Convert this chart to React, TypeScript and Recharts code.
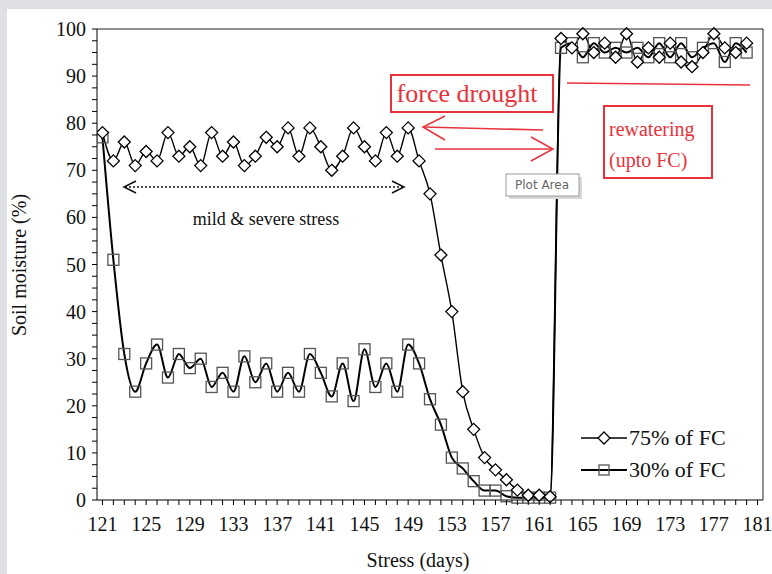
import { LineChart, Line, XAxis, YAxis } from "recharts"

// days of the stress experiment
const days = [
  121, 122, 123, 124, 125, 126, 127, 128, 129, 130,
  131, 132, 133, 134, 135, 136, 137, 138, 139, 140,
  141, 142, 143, 144, 145, 146, 147, 148, 149, 150,
  151, 152, 153, 154, 155, 156, 157, 158, 159, 160,
  161, 162, 163, 164, 165, 166, 167, 168, 169, 170,
  171, 172, 173, 174, 175, 176, 177, 178, 179, 180,
]

// soil moisture (%) for 75% of FC
const fc75 = [
  78, 72, 76, 71, 74, 72, 78, 73, 75, 71,
  78, 73, 76, 71, 73, 77, 75, 79, 73, 79,
  75, 70, 73, 79, 75, 72, 78, 73, 79, 72,
  65, 52, 40, 23, 15, 9, 6.4, 4.3, 2.1, 1,
  1, 0.7, 98, 96, 99, 95, 97, 94, 99, 93,
  96, 94, 97, 93, 92, 95, 99, 96, 95, 97,
]

// soil moisture (%) for 30% of FC
const fc30 = [
  77, 51, 31, 23, 29, 33, 26, 31, 28, 30,
  24, 27, 23, 30.5, 25, 29, 23, 27, 23, 31,
  27, 22, 29, 21, 32, 24, 29, 23, 33, 29,
  21.4, 16, 9, 6.7, 4, 2, 2, 0.8, 0.5, 0.5,
  0.5, 0.5, 96, 97, 94, 97, 95, 96, 95, 96,
  94, 97, 94, 97, 94, 96, 97, 93, 97, 95,
]

const xLabels = [121, 125, 129, 133, 137, 141, 145, 149, 153, 157, 161, 165, 169, 173, 177, 181]
const yLabels = [0, 10, 20, 30, 40, 50, 60, 70, 80, 90, 100]

// minor ticks: every day on x, every 2.5 on y
const xTicks: number[] = []
for (let d = 121; d <= 181; d++) xTicks.push(d)
const yTicks: number[] = []
for (let v = 0; v <= 100; v += 2.5) yTicks.push(v)

const data = days.map((day, i) => ({ day, fc75: fc75[i], fc30: fc30[i] }))

const serif = "'Liberation Serif', 'Times New Roman', serif"
const red = "#e8323c"

function XTick(props: any) {
  const { x, y, payload } = props
  const show = xLabels.includes(payload.value)
  return (
    <g>
      <line x1={x} x2={x} y1={y} y2={y + 5} stroke="#000" />
      {show && (
        <text x={x} y={y + 31} textAnchor="middle" fontFamily={serif} fontSize={20} fill="#111">
          {payload.value}
        </text>
      )}
    </g>
  )
}

function YTick(props: any) {
  const { x, y, payload } = props
  const show = yLabels.includes(payload.value)
  return (
    <g>
      <line x1={x - 5} x2={x} y1={y} y2={y} stroke="#000" />
      {show && (
        <text x={x - 11} y={y + 7} textAnchor="end" fontFamily={serif} fontSize={20} fill="#111">
          {payload.value}
        </text>
      )}
    </g>
  )
}

function Diamond(props: any) {
  const { cx, cy } = props
  if (cx == null || cy == null) return null
  const r = 6
  return (
    <polygon
      points={`${cx},${cy - r} ${cx + r},${cy} ${cx},${cy + r} ${cx - r},${cy}`}
      fill="#fff"
      stroke="#000"
      strokeWidth={1.3}
    />
  )
}

function Square(props: any) {
  const { cx, cy } = props
  if (cx == null || cy == null) return null
  return <rect x={cx - 5.5} y={cy - 5.5} width={11} height={11} fill="none" stroke="#555" strokeWidth={1.3} />
}

function Annotations() {
  return (
    <svg
      width={772}
      height={574}
      style={{ position: "absolute", left: -7, top: -9, pointerEvents: "none" }}
    >
      {/* plot frame: top and right */}
      <line x1={97} x2={763} y1={29} y2={29} stroke="#222" />
      <line x1={763} x2={763} y1={29} y2={500} stroke="#222" />

      {/* axis titles */}
      <text x={418} y={567} textAnchor="middle" fontFamily={serif} fontSize={20} fill="#111">
        Stress (days)
      </text>
      <text
        x={26}
        y={265}
        textAnchor="middle"
        fontFamily={serif}
        fontSize={20}
        fill="#111"
        transform="rotate(-90 26 265)"
      >
        Soil moisture (%)
      </text>

      {/* force drought */}
      <rect x={391} y={75} width={162} height={37} fill="none" stroke={red} strokeWidth={2} />
      <text x={467} y={102} textAnchor="middle" fontFamily={serif} fontSize={26} fill={red}>
        force drought
      </text>
      <line x1={567} x2={750} y1={83} y2={85} stroke={red} strokeWidth={1.5} />
      <g stroke={red} strokeWidth={1.5} fill="none">
        <line x1={543} x2={423} y1={130} y2={127} />
        <polyline points="445,116 423,127 445,140" />
        <line x1={435} x2={553} y1={149} y2={149} />
        <polyline points="531,137 553,149 531,161" />
      </g>

      {/* rewatering */}
      <rect x={604} y={106} width={108} height={72} fill="none" stroke={red} strokeWidth={2} />
      <text fontFamily={serif} fontSize={20} fill={red}>
        <tspan x={609} y={136}>rewatering</tspan>
        <tspan x={609} y={167}>(upto FC)</tspan>
      </text>

      {/* Plot Area tooltip */}
      <rect x={509} y={177} width={73} height={22} fill="#d8d8d8" />
      <rect x={506} y={174} width={73} height={22} fill="#fff" stroke="#9a9a9a" />
      <text x={542} y={189} textAnchor="middle" fontFamily="'DejaVu Sans', sans-serif" fontSize={12} fill="#666">
        Plot Area
      </text>

      {/* mild & severe stress */}
      <g stroke="#111" strokeWidth={1.5} fill="none">
        <line x1={125} x2={403} y1={187} y2={187} strokeDasharray="2 2" />
        <polyline points="136,181 124,187 136,193" />
        <polyline points="392,181 404,187 392,193" />
      </g>
      <text x={266} y={225} textAnchor="middle" fontFamily={serif} fontSize={18} fill="#111">
        mild &amp; severe stress
      </text>

      {/* legend */}
      <line x1={581} x2={627} y1={438} y2={438} stroke="#000" strokeWidth={1.4} />
      <polygon points="604,432 610,438 604,444 598,438" fill="#fff" stroke="#000" strokeWidth={1.3} />
      <text x={629} y={445} fontFamily={serif} fontSize={22} fill="#111">
        75% of FC
      </text>
      <line x1={581} x2={627} y1={470} y2={470} stroke="#000" strokeWidth={2} />
      <rect x={599} y={465} width={10} height={10} fill="none" stroke="#555" strokeWidth={1.3} />
      <text x={629} y={477} fontFamily={serif} fontSize={22} fill="#111">
        30% of FC
      </text>
    </svg>
  )
}

export default function App() {
  if (typeof document !== "undefined") {
    document.body.style.margin = "0"
    document.body.style.background = "#dfe0e3"
  }
  return (
    <div style={{ width: 772, height: 574, overflow: "hidden" }}>
      <div style={{ position: "relative", marginLeft: 7, marginTop: 9, width: 765, height: 565, background: "#fff" }}>
        <LineChart width={765} height={565} data={data} margin={{ top: 20, right: 9, left: 0, bottom: 0 }}>
          <XAxis
            dataKey="day"
            type="number"
            domain={[120.5, 181.5]}
            ticks={xTicks}
            interval={0}
            tickSize={0}
            tickMargin={0}
            tickLine={false}
            tick={<XTick />}
            height={74}
            stroke="#000"
            allowDataOverflow
          />
          <YAxis
            type="number"
            domain={[0, 100]}
            ticks={yTicks}
            interval={0}
            tickSize={0}
            tickMargin={0}
            tickLine={false}
            tick={<YTick />}
            width={90}
            stroke="#000"
          />
          <Line
            dataKey="fc30"
            type="monotone"
            stroke="#000"
            strokeWidth={2}
            dot={<Square />}
            isAnimationActive={false}
          />
          <Line
            dataKey="fc75"
            type="monotone"
            stroke="#000"
            strokeWidth={1.4}
            dot={<Diamond />}
            isAnimationActive={false}
          />
        </LineChart>
        <Annotations />
      </div>
    </div>
  )
}
